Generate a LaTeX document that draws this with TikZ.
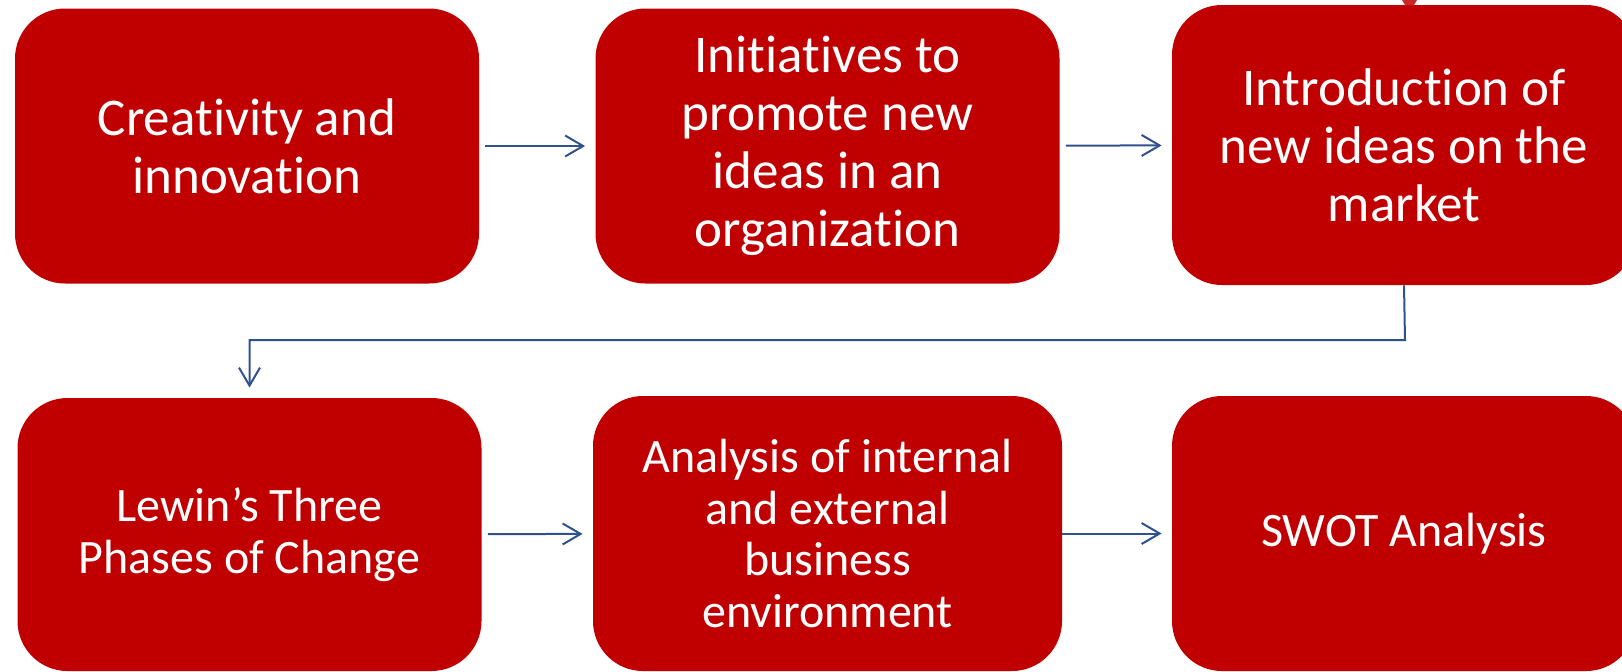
\documentclass[tikz,border=0pt]{standalone}
\usepackage{fontspec}
\setmainfont{Carlito}[Ligatures=NoCommon]
\usetikzlibrary{arrows.meta}
\definecolor{boxred}{RGB}{192,0,0}
\definecolor{arrowblue}{RGB}{47,82,143}
\begin{document}
\begin{tikzpicture}[x=0.5pt,y=-0.5pt,
	stage/.style={fill=boxred,text=white,rounded corners=25pt,inner sep=0pt,
		minimum width=232pt,minimum height=137.5pt,align=center,
		font=\fontsize{26.5}{29}\selectfont},
	lowstage/.style={stage,font=\fontsize{24}{25.8}\selectfont},
	link/.style={draw=arrowblue,line width=1pt,-{Straight Barb[length=9pt,width=10.5pt]},
		shorten <=3pt,shorten >=5pt}]
	\useasboundingbox (0,0) rectangle (1622,671);
	\clip (0,0) rectangle (1622,671);
	% first row
	\node[stage] (creativity) at (247,146) {Creativity and\\innovation};
	\node[stage] (initiatives) at (827.5,146) {Initiatives to\\promote new\\ideas in an\\organization};
	\node[stage,minimum height=140pt] (introduction) at (1404,145) {Introduction of\\new ideas on the\\market};
	% second row
	\node[lowstage,minimum height=136.5pt] (lewin) at (249.5,534.5) {Lewin’s Three\\Phases of Change};
	\node[lowstage,minimum width=234.5pt] (analysis) at (827.5,533.5) {Analysis of internal\\and external\\business\\environment};
	\node[lowstage] (swot) at (1404,533.5) {SWOT Analysis};
	% small red tail above the third box
	\fill[boxred!85!white] (1402,0) -- (1417,0) -- (1414,5) -- (1405,5) -- cycle;
	% connectors
	\coordinate (bend) at (1405,340);
	\draw[link] (creativity) -- (initiatives);
	\draw[link] (initiatives) -- (introduction);
	\draw[link,shorten <=0pt] (introduction.south) -- (bend) -| (lewin.north);
	\draw[link] (lewin) -- (analysis);
	\draw[link,shorten <=0pt] (analysis) -- (swot);
\end{tikzpicture}
\end{document}
